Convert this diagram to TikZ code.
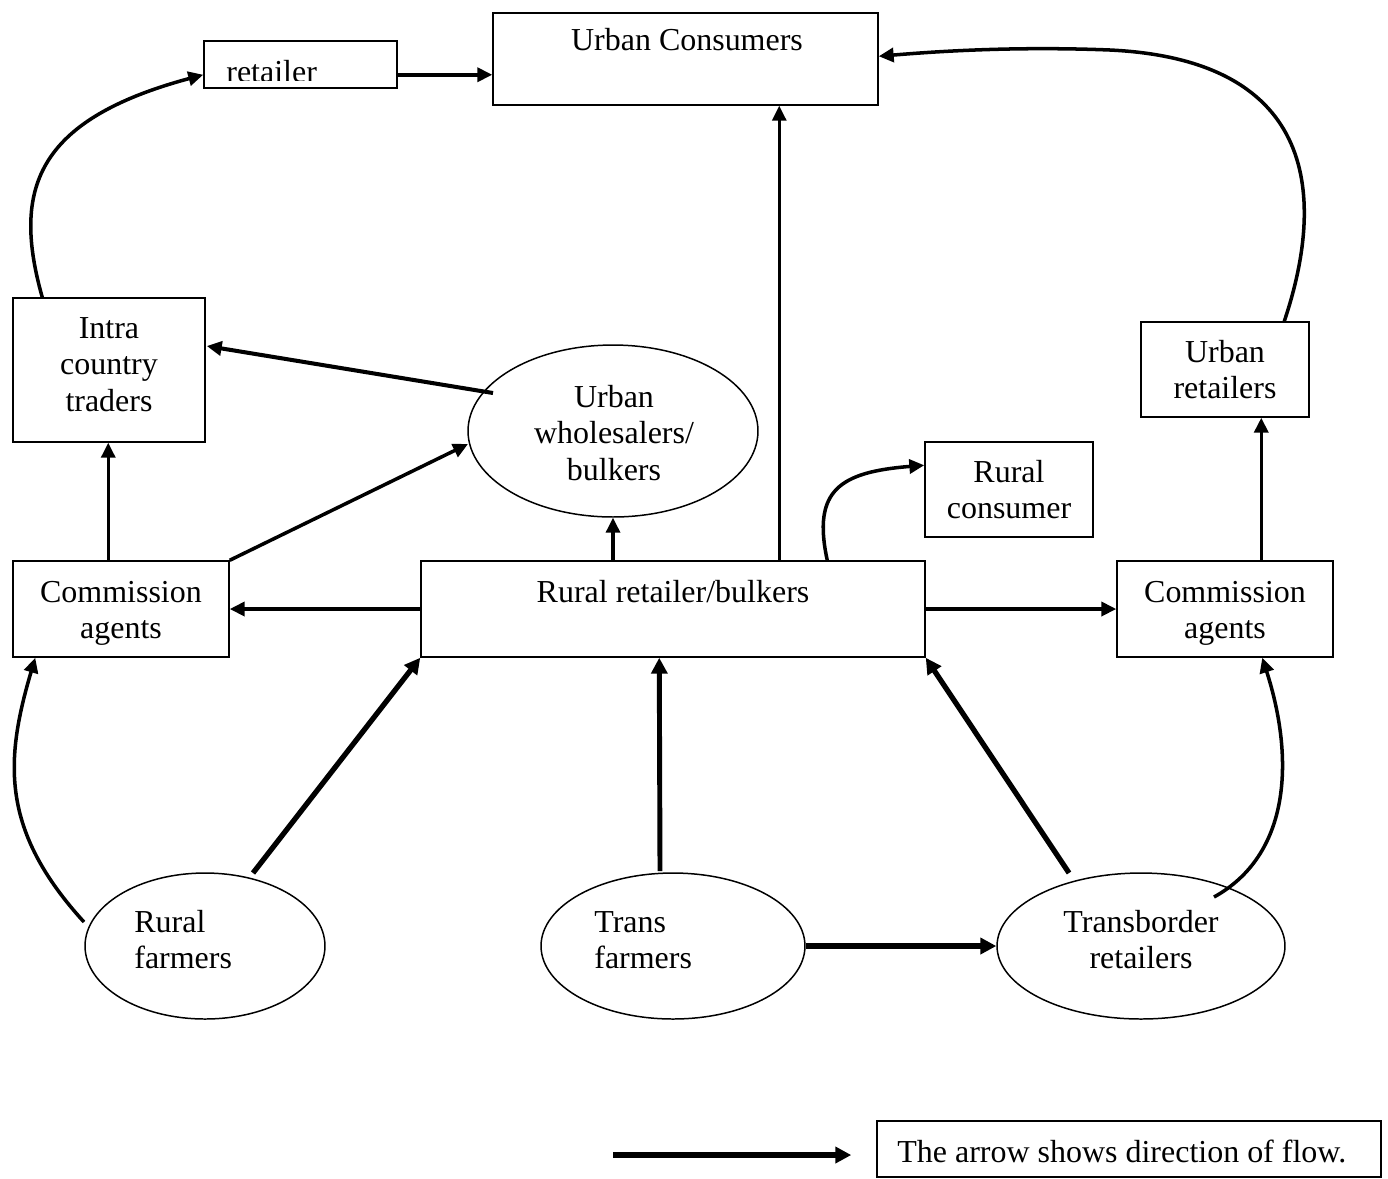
\documentclass[tikz,border=0pt]{standalone}
\usepackage{fontspec}
\setmainfont{Liberation Serif}
\usetikzlibrary{arrows.meta,shapes.geometric,calc,fit}
\newcommand\mlines[2]{\begin{tabular}[t]{@{}#1@{}}#2\end{tabular}}
\begin{document}
\begin{tikzpicture}[x=0.02cm,y=-0.02cm,
  box/.style={draw,inner sep=0pt,line width=0.85pt},
  ell/.style={draw,ellipse,inner sep=0pt,line width=0.85pt},
  lbl/.style={inner sep=0pt,font={\fontsize{18.2}{20.8}\selectfont}},
  arr/.style={line width=2pt,-{Triangle[length=8.5pt,width=8pt]}},
  tarr/.style={line width=3pt,-{Triangle[length=9pt,width=9pt]}}]
\fill[white] (0,0) rectangle (1388,1178);
\useasboundingbox (0,0) rectangle (1388,1178);

% boxes
\node[box,fit={(493,13)(878,105)}] (urbancons) {};
\node[box,fit={(204,41)(397,88)}] (retailer) {};
\node[box,fit={(13,298)(205,442)}] (intra) {};
\node[box,fit={(1141,322)(1309,417)}] (urbanret) {};
\node[box,fit={(925,442)(1093,537)}] (ruralcons) {};
\node[box,fit={(13,561)(229,657)}] (commL) {};
\node[box,fit={(421,561)(925,657)}] (ruralret) {};
\node[box,fit={(1117,561)(1333,657)}] (commR) {};
\node[box,fit={(877,1121)(1381,1177)}] (legend) {};

% ellipses
\node[ell,minimum width=5.8cm,minimum height=3.44cm] (urbanw) at (613,431) {};
\node[ell,minimum width=4.8cm,minimum height=2.92cm] (ruralf) at (205,946) {};
\node[ell,minimum width=5.28cm,minimum height=2.92cm] (transf) at (673,946) {};
\node[ell,minimum width=5.76cm,minimum height=2.92cm] (transb) at (1141,946) {};

% labels
\node[lbl,anchor=base] (t-urbancons) at (687,50) {Urban Consumers};
\begin{scope}
\clip (204,41) rectangle (397,80);
\node[lbl,anchor=base west] (t-retailer) at (226,82) {retailer};
\end{scope}
\node[lbl,anchor=base] (t-intra) at (109,338) {\mlines{c}{Intra\\country\\traders}};
\node[lbl,anchor=base] (t-urbanw) at (614,407) {\mlines{c}{Urban\\wholesalers/\\bulkers}};
\node[lbl,anchor=base] (t-urbanret) at (1225,362) {\mlines{c}{Urban\\retailers}};
\node[lbl,anchor=base] (t-ruralcons) at (1009,482) {\mlines{c}{Rural\\consumer}};
\node[lbl,anchor=base] (t-commL) at (121,602) {\mlines{c}{Commission\\agents}};
\node[lbl,anchor=base] (t-ruralret) at (673,602) {Rural retailer/bulkers};
\node[lbl,anchor=base] (t-commR) at (1225,602) {\mlines{c}{Commission\\agents}};
\node[lbl,anchor=base west] (t-ruralf) at (134,932) {\mlines{l}{Rural\\farmers}};
\node[lbl,anchor=base west] (t-transf) at (594,932) {\mlines{l}{Trans\\farmers}};
\node[lbl,anchor=base] (t-transb) at (1141,932) {\mlines{c}{Transborder\\retailers}};
\node[lbl,anchor=base west] (t-legend) at (897,1162) {The arrow shows direction of flow.};

% connectors
\draw[arr] ($(retailer.south east)+(0,-14)$) -- ($(urbancons.south west)+(0,-31)$);
\draw[arr,line width=1.7pt] ($(ruralret.north west)+(359,0)$) -- ($(urbancons.south west)+(287,0)$);
\draw[arr,line width=2.3pt] ($(urbanw.center)+(-120,-38)$) -- ($(intra.east)+(1,-24)$);
\draw[arr,line width=1.8pt] ($(commL.north west)+(96,0)$) -- ($(intra.south west)+(96,0)$);
\draw[arr] (commL.north east) -- ($(urbanw.center)+(-145,13)$);
\draw[arr,line width=1.8pt] (urbanw.south |- ruralret.north) -- (urbanw.south);
\draw[arr] (ruralret.west) -- (commL.east);
\draw[arr] (ruralret.east) -- (commR.west);
\draw[arr] ($(commR.north west)+(145,0)$) -- ($(urbanret.south west)+(121,0)$);
\draw[arr] ($(urbanret.north west)+(144,0)$) .. controls (1325,200) and (1320,60) .. (1110,50)
  .. controls (1010,46) and (930,52) .. ($(urbancons.north east)+(0,44)$);
\draw[arr] ($(intra.north west)+(30,0)$) .. controls (12,190) and (35,120) .. ($(retailer.south west)+(0,-14)$);
\draw[arr] ($(ruralret.north west)+(407,0)$) .. controls (812,490) and (840,472) .. ($(ruralcons.north west)+(0,24)$);
\draw[arr] ($(ruralf.center)+(-121,-24)$) .. controls (0,830) and (5,760) .. ($(commL.south west)+(23,0)$);
\draw[tarr] ($(ruralf.center)+(48,-73)$) -- (ruralret.south west);
\draw[tarr,line width=2.8pt] ($(transf.center)+(-13,-75)$) -- ($(ruralret.south west)+(239,0)$);
\draw[tarr] (transf.east) -- (transb.west);
\draw[tarr] ($(transb.center)+(-72,-73)$) -- (ruralret.south east);
\draw[arr] ($(transb.center)+(73,-49)$) .. controls (1290,855) and (1295,760) .. ($(commR.south west)+(146,0)$);
\coordinate (legstart) at (613,1155);
\draw[tarr,line width=3.3pt] (legstart) -- ($(legend.west)+(-25,6)$);
\end{tikzpicture}
\end{document}
